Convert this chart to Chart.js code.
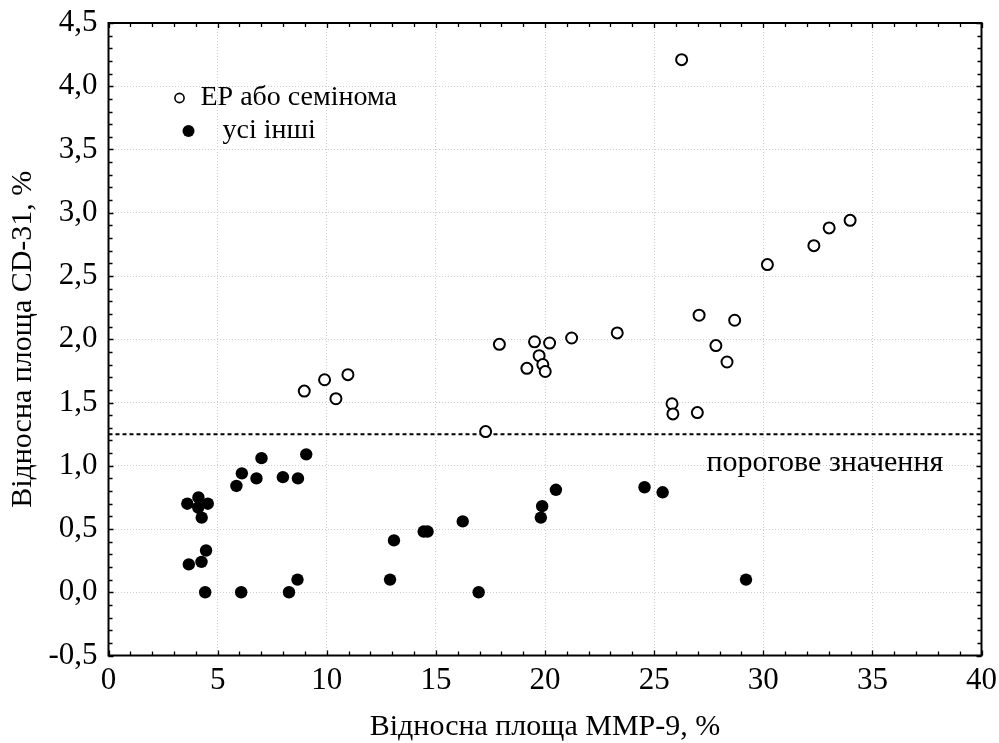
<!DOCTYPE html>
<html>
<head>
<meta charset="utf-8">
<script src="https://cdn.jsdelivr.net/npm/chart.js@4/dist/chart.umd.min.js"></script>
<style>
html,body{margin:0;padding:0;background:#fff;}
canvas{display:block;}
</style>
</head>
<body>
<canvas id="c" width="999" height="743"></canvas>
<script>
// ---- data ----
const seminomaX = [8.97, 9.90, 10.42, 10.97, 17.28, 17.91, 19.17, 19.52, 19.73, 19.90, 20.01, 20.21, 21.22, 23.31, 25.82, 25.86, 26.98, 27.06, 27.83, 28.34, 28.69, 30.19, 32.32, 33.02, 33.98, 26.26];
const seminomaY = [1.59, 1.68, 1.53, 1.72, 1.27, 1.96, 1.77, 1.98, 1.87, 1.80, 1.745, 1.97, 2.01, 2.05, 1.49, 1.41, 1.42, 2.19, 1.95, 1.82, 2.15, 2.59, 2.74, 2.88, 2.94, 4.21];
const othersX = [3.61, 4.12, 4.55, 4.27, 4.11, 4.47, 3.68, 4.26, 4.43, 5.86, 6.11, 6.08, 6.78, 7.01, 7.99, 8.68, 9.06, 8.66, 8.27, 12.90, 13.08, 14.44, 14.62, 16.23, 16.96, 19.87, 19.81, 20.50, 24.56, 25.39, 29.21];
const othersY = [0.70, 0.75, 0.70, 0.59, 0.67, 0.33, 0.22, 0.24, 0.0, 0.84, 0.94, 0.0, 0.90, 1.06, 0.91, 0.90, 1.09, 0.10, 0.0, 0.10, 0.41, 0.48, 0.48, 0.56, 0.0, 0.68, 0.59, 0.81, 0.83, 0.79, 0.10];
const thresholdValue = 1.25;
const xRange = [0, 40];
const yRange = [-0.5, 4.5];
const xStep = 5;
const yStep = 0.5;
const seriesNames = ['ЕР або семінома', 'усі інші'];
const thresholdLabel = 'порогове значення';
const xTitle = 'Відносна площа ММР-9, %';
const yTitle = 'Відносна площа CD-31, %';

const FONT = "'Liberation Serif', 'Times New Roman', serif";

function toPoints(xs, ys) { return xs.map((x, i) => ({x: x, y: ys[i]})); }
function fmt(v) { return v.toFixed(1).replace('.', ','); }

const decor = {
  id: 'decor',
  afterDatasetsDraw(chart) {
    const {ctx, chartArea: a, scales: {x, y}} = chart;
    ctx.save();
    ctx.strokeStyle = '#000';
    ctx.lineWidth = 1.3;
    ctx.beginPath();
    for (let v = xRange[0]; v <= xRange[1] + 1e-9; v += 1) {
      const px = Math.round(x.getPixelForValue(v)) + 0.5;
      const len = (Math.abs(v % xStep) < 1e-9) ? 5 : 4;
      ctx.moveTo(px, a.bottom); ctx.lineTo(px, a.bottom - len);
      ctx.moveTo(px, a.top); ctx.lineTo(px, a.top + len);
    }
    for (let i = 0; i <= Math.round((yRange[1] - yRange[0]) / 0.1); i++) {
      const v = yRange[0] + i * 0.1;
      const py = Math.round(y.getPixelForValue(v)) + 0.5;
      const len = (i % 5 === 0) ? 5 : 4;
      ctx.moveTo(a.left, py); ctx.lineTo(a.left + len, py);
      ctx.moveTo(a.right, py); ctx.lineTo(a.right - len, py);
    }
    ctx.stroke();
    ctx.lineWidth = 2;
    ctx.strokeRect(a.left, a.top, a.right - a.left, a.bottom - a.top);

    ctx.fillStyle = '#000';
    ctx.font = '30px ' + FONT;
    ctx.textBaseline = 'alphabetic';
    ctx.textAlign = 'left';
    ctx.fillText(thresholdLabel, x.getPixelForValue(27.4), y.getPixelForValue(thresholdValue) + 37);

    const lx = a.left, ly = a.top;
    ctx.font = '28px ' + FONT;
    ctx.beginPath();
    ctx.lineWidth = 1.6;
    ctx.arc(lx + 71, ly + 75, 4.6, 0, Math.PI * 2);
    ctx.fillStyle = '#fff'; ctx.fill(); ctx.stroke();
    ctx.fillStyle = '#000';
    ctx.fillText(seriesNames[0], lx + 92, ly + 82);
    ctx.beginPath();
    ctx.arc(lx + 80, ly + 108, 6, 0, Math.PI * 2);
    ctx.fill();
    ctx.fillText(seriesNames[1], lx + 114, ly + 115);
    ctx.restore();
  }
};

new Chart(document.getElementById('c'), {
  type: 'scatter',
  data: {
    datasets: [
      {
        type: 'line',
        label: thresholdLabel,
        data: [{x: xRange[0], y: thresholdValue}, {x: xRange[1], y: thresholdValue}],
        borderColor: '#000',
        borderWidth: 2,
        borderDash: [4, 3],
        pointRadius: 0,
        fill: false,
        order: 3
      },
      {
        label: seriesNames[0],
        data: toPoints(seminomaX, seminomaY),
        pointRadius: 5.5,
        pointBorderWidth: 2,
        pointBorderColor: '#000',
        pointBackgroundColor: '#fff',
        order: 2
      },
      {
        label: seriesNames[1],
        data: toPoints(othersX, othersY),
        pointRadius: 6.2,
        pointBorderWidth: 0,
        pointBorderColor: '#000',
        pointBackgroundColor: '#000',
        order: 1
      }
    ]
  },
  options: {
    responsive: false,
    animation: false,
    devicePixelRatio: 1,
    layout: {padding: {left: 0, top: 23, right: 17.5, bottom: 0}},
    plugins: {legend: {display: false}, tooltip: {enabled: false}},
    scales: {
      x: {
        type: 'linear',
        min: xRange[0], max: xRange[1],
        afterFit(s) { s.height = 87.5; s.paddingLeft = 0; s.paddingRight = 0; },
        ticks: {stepSize: xStep, color: '#000', font: {family: FONT, size: 31}, padding: 7, maxRotation: 0},
        grid: {color: '#cfcfcf', lineWidth: 1, drawTicks: false},
        border: {display: false, dash: [1, 2]},
        title: {display: true, text: xTitle, color: '#000', font: {family: FONT, size: 30, lineHeight: 1.0}, padding: {top: 0, bottom: 1}}
      },
      y: {
        type: 'linear',
        min: yRange[0], max: yRange[1],
        afterFit(s) { s.width = 108.5; s.paddingTop = 0; s.paddingBottom = 0; },
        ticks: {stepSize: yStep, color: '#000', font: {family: FONT, size: 31}, padding: 11, callback: (v) => fmt(v)},
        grid: {color: '#cfcfcf', lineWidth: 1, drawTicks: false},
        border: {display: false, dash: [1, 2]},
        title: {display: true, text: yTitle, color: '#000', font: {family: FONT, size: 30, lineHeight: 1.0}, padding: {top: 8, bottom: 0}}
      }
    }
  },
  plugins: [decor]
});
</script>
</body>
</html>
